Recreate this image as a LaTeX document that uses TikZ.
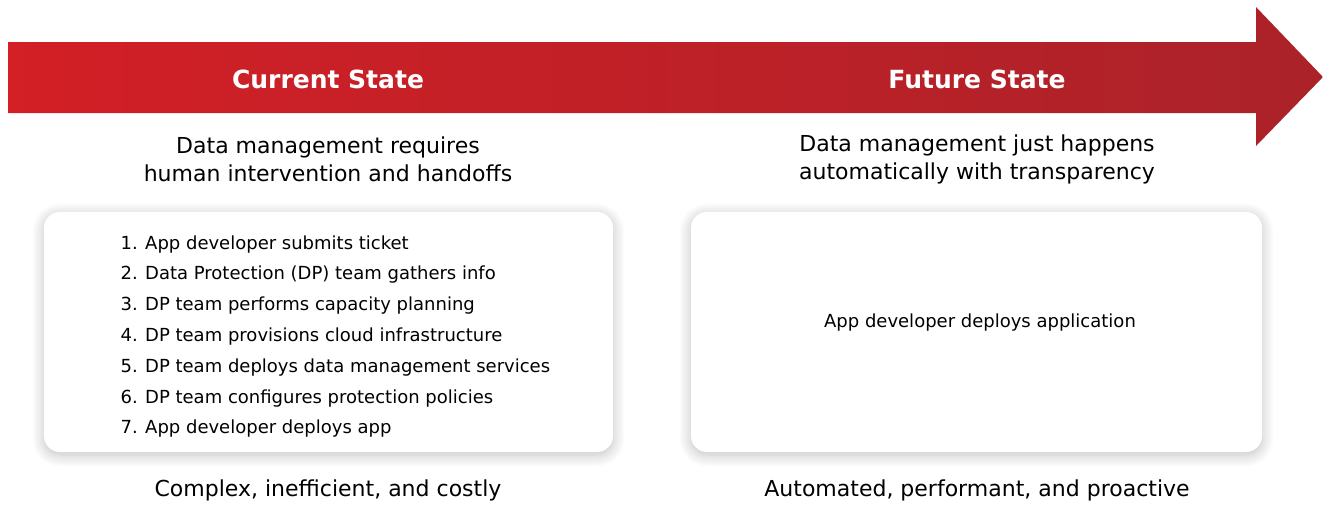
\documentclass[tikz,border=0pt]{standalone}
\usepackage{fontspec}
\setmainfont{DejaVu Sans}
\usetikzlibrary{shadows.blur}
\definecolor{redL}{HTML}{D31F26}
\definecolor{redR}{HTML}{AB2229}
\tikzset{
  panel/.style={draw=none, fill=white, rounded corners=16pt,
    blur shadow={shadow xshift=0pt, shadow yshift=-3pt, shadow blur steps=12, shadow blur radius=12pt, shadow opacity=25}},
  heading/.style={text=white, font=\fontsize{25}{30}\selectfont\bfseries, anchor=center},
  caption/.style={font=\fontsize{22}{28}\selectfont, align=center, anchor=center},
  item/.style={font=\fontsize{18}{21}\selectfont, anchor=base west, inner sep=0pt},
}
\begin{document}
\begin{tikzpicture}[x=1pt,y=-1pt]
\useasboundingbox (0,0) rectangle (1323,506);
% arrow
\shade[left color=redL, right color=redR]
  (8,42) -- (1256,42) -- (1256,7) -- (1323,77) -- (1256,146) -- (1256,113) -- (8,113) -- cycle;
\node[heading] (cur) at (328,79) {Current State};
\node[heading] (fut) at (977,79) {Future State};
\node[caption] (c1) at (328,159) {Data management requires\\human intervention and handoffs};
\node[caption] (c2) at (977,159) {Data management just happens\\automatically with transparency};
% panels
\path[panel] (44,212) rectangle (613,452);
\path[panel] (691,212) rectangle (1262,452);
% list
\foreach \n/\t [count=\i from 0] in {1/App developer submits ticket,2/Data Protection (DP) team gathers info,3/DP team performs capacity planning,4/DP team provisions cloud infrastructure,5/DP team deploys data management services,6/DP team configures protection policies,7/App developer deploys app}{
  \node[item, anchor=base east] (n\n) at (138,249+\i*30.8) {\n.};
  \node[item] (t\n) at (145,249+\i*30.8) {\t};
}
\node[font=\fontsize{18}{21}\selectfont] (fa) at (980,323) {App developer deploys application};
\node[caption] (b1) at (328,490) {Complex, inefficient, and costly};
\node[caption] (b2) at (977,490) {Automated, performant, and proactive};
\end{tikzpicture}
\end{document}
